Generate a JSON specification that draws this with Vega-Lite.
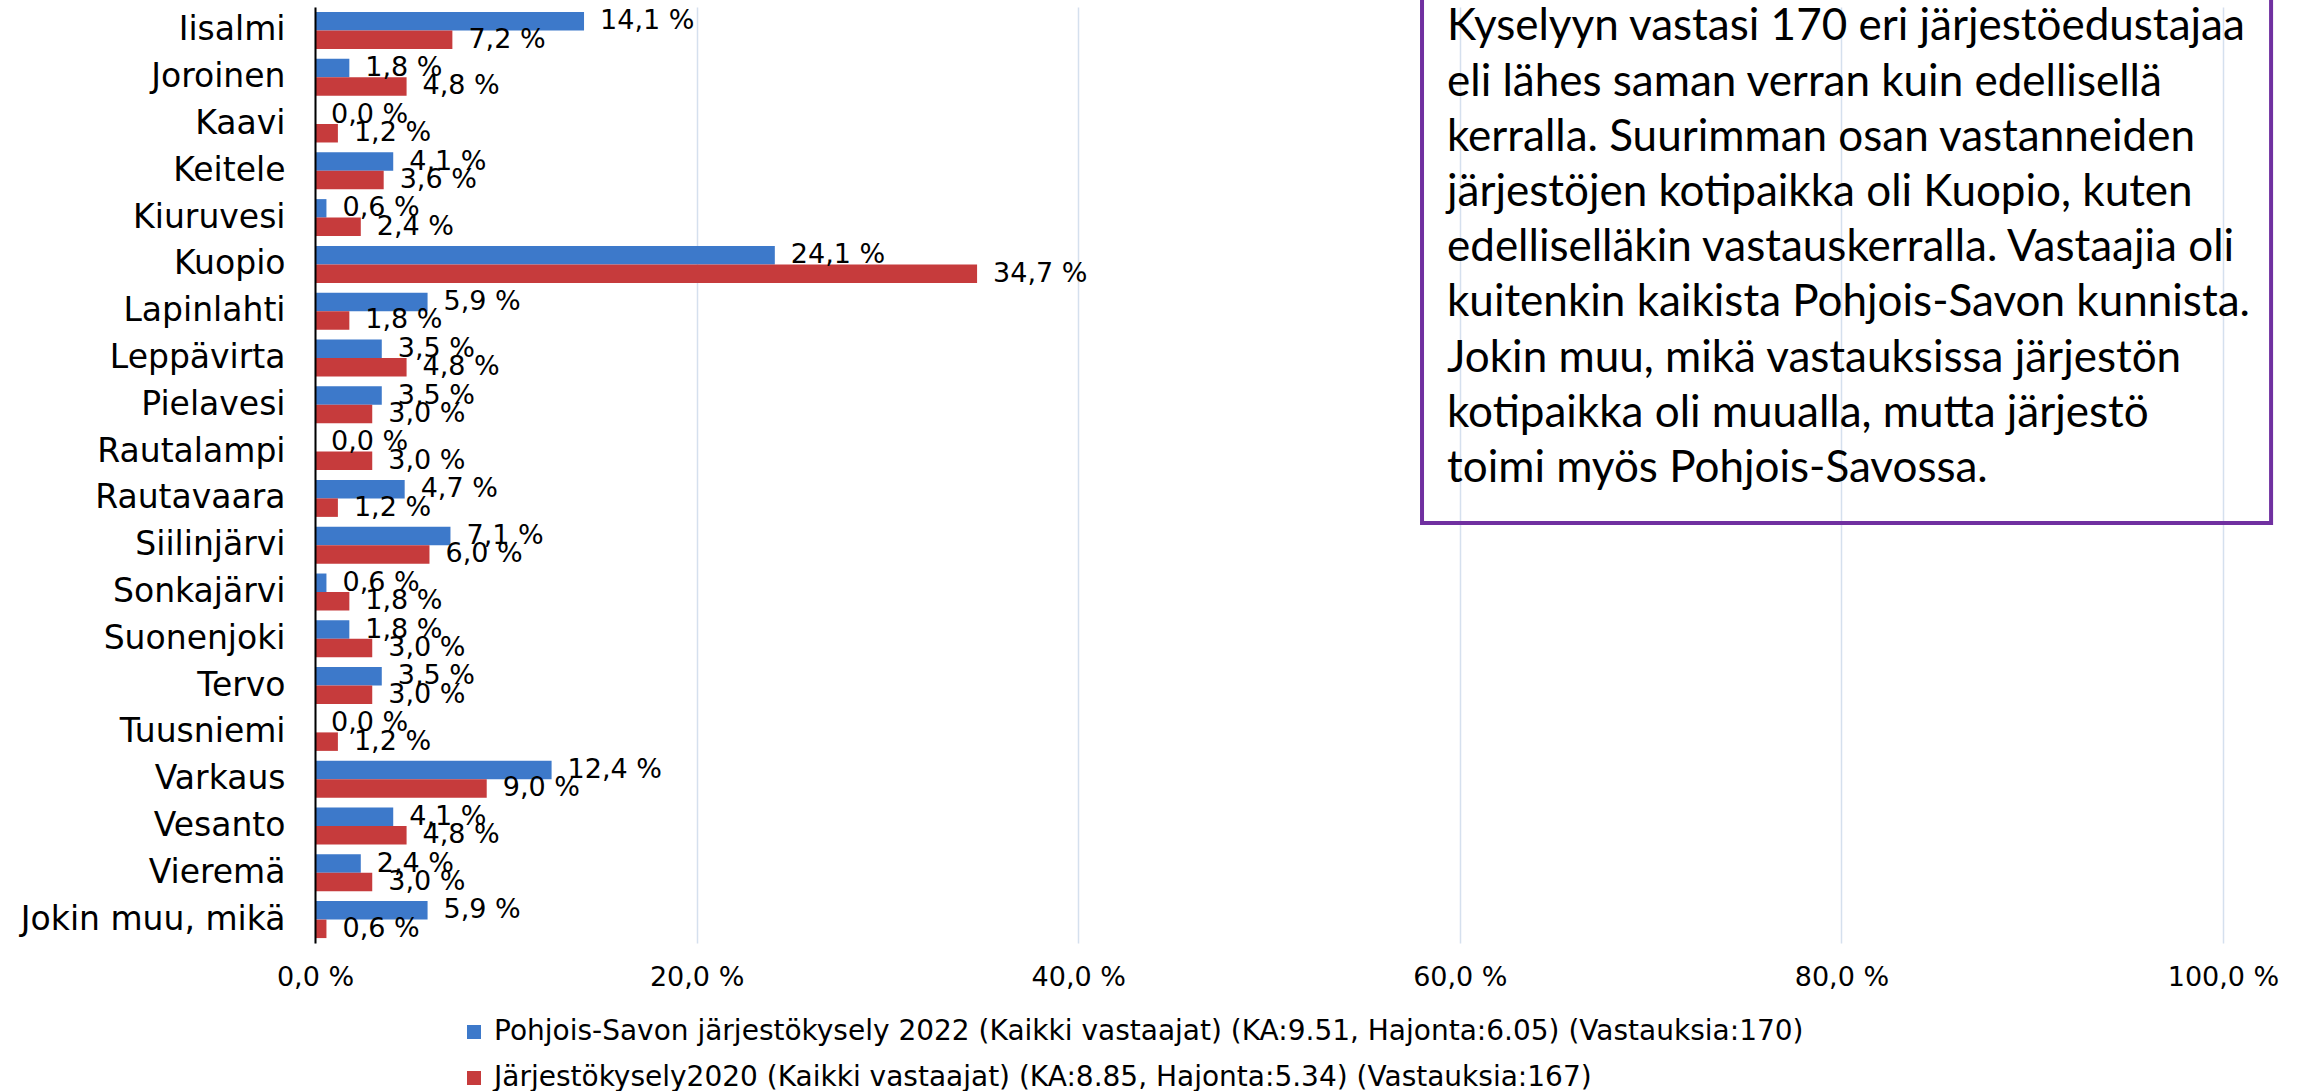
{
  "$schema": "https://vega.github.io/schema/vega-lite/v6.json",
  "width": 1908,
  "height": 936,
  "autosize": {"type": "none"},
  "padding": {"left": 315, "top": 7, "right": 85, "bottom": 148},
  "background": "white",
  "config": {
    "view": {"stroke": null},
    "font": "DejaVu Sans",
    "locale": {
      "number": {"decimal": ",", "thousands": " ", "grouping": [3], "currency": ["", " €"], "percent": " %"}
    }
  },
  "layer": [
    {
      "data": {
        "values": [
          {"kunta": "Iisalmi", "sarja": "Pohjois-Savon järjestökysely 2022 (Kaikki vastaajat) (KA:9.51, Hajonta:6.05) (Vastauksia:170)", "osuus": 0.141},
          {"kunta": "Iisalmi", "sarja": "Järjestökysely2020 (Kaikki vastaajat) (KA:8.85, Hajonta:5.34) (Vastauksia:167)", "osuus": 0.072},
          {"kunta": "Joroinen", "sarja": "Pohjois-Savon järjestökysely 2022 (Kaikki vastaajat) (KA:9.51, Hajonta:6.05) (Vastauksia:170)", "osuus": 0.018},
          {"kunta": "Joroinen", "sarja": "Järjestökysely2020 (Kaikki vastaajat) (KA:8.85, Hajonta:5.34) (Vastauksia:167)", "osuus": 0.048},
          {"kunta": "Kaavi", "sarja": "Pohjois-Savon järjestökysely 2022 (Kaikki vastaajat) (KA:9.51, Hajonta:6.05) (Vastauksia:170)", "osuus": 0.0},
          {"kunta": "Kaavi", "sarja": "Järjestökysely2020 (Kaikki vastaajat) (KA:8.85, Hajonta:5.34) (Vastauksia:167)", "osuus": 0.012},
          {"kunta": "Keitele", "sarja": "Pohjois-Savon järjestökysely 2022 (Kaikki vastaajat) (KA:9.51, Hajonta:6.05) (Vastauksia:170)", "osuus": 0.041},
          {"kunta": "Keitele", "sarja": "Järjestökysely2020 (Kaikki vastaajat) (KA:8.85, Hajonta:5.34) (Vastauksia:167)", "osuus": 0.036},
          {"kunta": "Kiuruvesi", "sarja": "Pohjois-Savon järjestökysely 2022 (Kaikki vastaajat) (KA:9.51, Hajonta:6.05) (Vastauksia:170)", "osuus": 0.006},
          {"kunta": "Kiuruvesi", "sarja": "Järjestökysely2020 (Kaikki vastaajat) (KA:8.85, Hajonta:5.34) (Vastauksia:167)", "osuus": 0.024},
          {"kunta": "Kuopio", "sarja": "Pohjois-Savon järjestökysely 2022 (Kaikki vastaajat) (KA:9.51, Hajonta:6.05) (Vastauksia:170)", "osuus": 0.241},
          {"kunta": "Kuopio", "sarja": "Järjestökysely2020 (Kaikki vastaajat) (KA:8.85, Hajonta:5.34) (Vastauksia:167)", "osuus": 0.347},
          {"kunta": "Lapinlahti", "sarja": "Pohjois-Savon järjestökysely 2022 (Kaikki vastaajat) (KA:9.51, Hajonta:6.05) (Vastauksia:170)", "osuus": 0.059},
          {"kunta": "Lapinlahti", "sarja": "Järjestökysely2020 (Kaikki vastaajat) (KA:8.85, Hajonta:5.34) (Vastauksia:167)", "osuus": 0.018},
          {"kunta": "Leppävirta", "sarja": "Pohjois-Savon järjestökysely 2022 (Kaikki vastaajat) (KA:9.51, Hajonta:6.05) (Vastauksia:170)", "osuus": 0.035},
          {"kunta": "Leppävirta", "sarja": "Järjestökysely2020 (Kaikki vastaajat) (KA:8.85, Hajonta:5.34) (Vastauksia:167)", "osuus": 0.048},
          {"kunta": "Pielavesi", "sarja": "Pohjois-Savon järjestökysely 2022 (Kaikki vastaajat) (KA:9.51, Hajonta:6.05) (Vastauksia:170)", "osuus": 0.035},
          {"kunta": "Pielavesi", "sarja": "Järjestökysely2020 (Kaikki vastaajat) (KA:8.85, Hajonta:5.34) (Vastauksia:167)", "osuus": 0.030},
          {"kunta": "Rautalampi", "sarja": "Pohjois-Savon järjestökysely 2022 (Kaikki vastaajat) (KA:9.51, Hajonta:6.05) (Vastauksia:170)", "osuus": 0.0},
          {"kunta": "Rautalampi", "sarja": "Järjestökysely2020 (Kaikki vastaajat) (KA:8.85, Hajonta:5.34) (Vastauksia:167)", "osuus": 0.030},
          {"kunta": "Rautavaara", "sarja": "Pohjois-Savon järjestökysely 2022 (Kaikki vastaajat) (KA:9.51, Hajonta:6.05) (Vastauksia:170)", "osuus": 0.047},
          {"kunta": "Rautavaara", "sarja": "Järjestökysely2020 (Kaikki vastaajat) (KA:8.85, Hajonta:5.34) (Vastauksia:167)", "osuus": 0.012},
          {"kunta": "Siilinjärvi", "sarja": "Pohjois-Savon järjestökysely 2022 (Kaikki vastaajat) (KA:9.51, Hajonta:6.05) (Vastauksia:170)", "osuus": 0.071},
          {"kunta": "Siilinjärvi", "sarja": "Järjestökysely2020 (Kaikki vastaajat) (KA:8.85, Hajonta:5.34) (Vastauksia:167)", "osuus": 0.060},
          {"kunta": "Sonkajärvi", "sarja": "Pohjois-Savon järjestökysely 2022 (Kaikki vastaajat) (KA:9.51, Hajonta:6.05) (Vastauksia:170)", "osuus": 0.006},
          {"kunta": "Sonkajärvi", "sarja": "Järjestökysely2020 (Kaikki vastaajat) (KA:8.85, Hajonta:5.34) (Vastauksia:167)", "osuus": 0.018},
          {"kunta": "Suonenjoki", "sarja": "Pohjois-Savon järjestökysely 2022 (Kaikki vastaajat) (KA:9.51, Hajonta:6.05) (Vastauksia:170)", "osuus": 0.018},
          {"kunta": "Suonenjoki", "sarja": "Järjestökysely2020 (Kaikki vastaajat) (KA:8.85, Hajonta:5.34) (Vastauksia:167)", "osuus": 0.030},
          {"kunta": "Tervo", "sarja": "Pohjois-Savon järjestökysely 2022 (Kaikki vastaajat) (KA:9.51, Hajonta:6.05) (Vastauksia:170)", "osuus": 0.035},
          {"kunta": "Tervo", "sarja": "Järjestökysely2020 (Kaikki vastaajat) (KA:8.85, Hajonta:5.34) (Vastauksia:167)", "osuus": 0.030},
          {"kunta": "Tuusniemi", "sarja": "Pohjois-Savon järjestökysely 2022 (Kaikki vastaajat) (KA:9.51, Hajonta:6.05) (Vastauksia:170)", "osuus": 0.0},
          {"kunta": "Tuusniemi", "sarja": "Järjestökysely2020 (Kaikki vastaajat) (KA:8.85, Hajonta:5.34) (Vastauksia:167)", "osuus": 0.012},
          {"kunta": "Varkaus", "sarja": "Pohjois-Savon järjestökysely 2022 (Kaikki vastaajat) (KA:9.51, Hajonta:6.05) (Vastauksia:170)", "osuus": 0.124},
          {"kunta": "Varkaus", "sarja": "Järjestökysely2020 (Kaikki vastaajat) (KA:8.85, Hajonta:5.34) (Vastauksia:167)", "osuus": 0.090},
          {"kunta": "Vesanto", "sarja": "Pohjois-Savon järjestökysely 2022 (Kaikki vastaajat) (KA:9.51, Hajonta:6.05) (Vastauksia:170)", "osuus": 0.041},
          {"kunta": "Vesanto", "sarja": "Järjestökysely2020 (Kaikki vastaajat) (KA:8.85, Hajonta:5.34) (Vastauksia:167)", "osuus": 0.048},
          {"kunta": "Vieremä", "sarja": "Pohjois-Savon järjestökysely 2022 (Kaikki vastaajat) (KA:9.51, Hajonta:6.05) (Vastauksia:170)", "osuus": 0.024},
          {"kunta": "Vieremä", "sarja": "Järjestökysely2020 (Kaikki vastaajat) (KA:8.85, Hajonta:5.34) (Vastauksia:167)", "osuus": 0.030},
          {"kunta": "Jokin muu, mikä", "sarja": "Pohjois-Savon järjestökysely 2022 (Kaikki vastaajat) (KA:9.51, Hajonta:6.05) (Vastauksia:170)", "osuus": 0.059},
          {"kunta": "Jokin muu, mikä", "sarja": "Järjestökysely2020 (Kaikki vastaajat) (KA:8.85, Hajonta:5.34) (Vastauksia:167)", "osuus": 0.006}
        ]
      },
      "encoding": {
        "y": {
          "field": "kunta", "type": "nominal", "sort": null,
          "scale": {"paddingInner": 0.21, "paddingOuter": 0.105},
          "axis": {
            "title": null, "ticks": false, "domain": true, "domainColor": "#000000", "domainWidth": 2,
            "labelFontSize": 33, "labelColor": "#000000", "labelPadding": 30, "labelLimit": 0, "grid": false, "zindex": 1
          }
        },
        "yOffset": {"field": "sarja", "sort": null},
        "x": {
          "field": "osuus", "type": "quantitative",
          "scale": {"domain": [0, 1]},
          "axis": {
            "title": null, "domain": false, "ticks": false, "grid": true, "gridColor": "#D5E0EE", "gridWidth": 1.5,
            "values": [0, 0.2, 0.4, 0.6, 0.8, 1], "format": ".1%", "labelFlush": false,
            "labelFontSize": 27, "labelColor": "#000000", "labelPadding": 21
          }
        }
      },
      "layer": [
        {
          "mark": {"type": "bar"},
          "encoding": {
            "color": {
              "field": "sarja", "type": "nominal", "sort": null,
              "scale": {"range": ["#3D79CA", "#C63B3C"]},
              "legend": {
                "title": null, "orient": "none", "legendX": 145, "legendY": 1011, "direction": "vertical",
                "symbolType": "square", "symbolSize": 196, "symbolStrokeWidth": 0, "labelFontSize": 28,
                "labelColor": "#000000", "labelOffset": 6, "labelLimit": 0, "rowPadding": 18, "padding": 0
              }
            }
          }
        },
        {
          "mark": {"type": "text", "align": "left", "baseline": "middle", "dx": 16, "fontSize": 27, "color": "#000000"},
          "encoding": {
            "text": {"field": "osuus", "type": "quantitative", "format": ".1%"}
          }
        }
      ]
    },
    {
      "data": {
        "values": [
          {"teksti": "Kyselyyn vastasi 170 eri järjestöedustajaa\neli lähes saman verran kuin edellisellä\nkerralla. Suurimman osan vastanneiden\njärjestöjen kotipaikka oli Kuopio, kuten\nedelliselläkin vastauskerralla. Vastaajia oli\nkuitenkin kaikista Pohjois-Savon kunnista.\nJokin muu, mikä vastauksissa järjestön\nkotipaikka oli muualla, mutta järjestö\ntoimi myös Pohjois-Savossa."}
        ]
      },
      "layer": [
        {
          "mark": {"type": "rect", "fill": null, "fillOpacity": 0, "stroke": "#7030A0", "strokeWidth": 4},
          "encoding": {
            "x": {"datum": 0.5802, "type": "quantitative", "scale": {"domain": [0, 1]}},
            "x2": {"datum": 1.0252},
            "y": {"datum": -1, "type": "quantitative", "scale": {"domain": [0, 16.957], "reverse": true}, "axis": null},
            "y2": {"datum": 9.35}
          }
        },
        {
          "mark": {"type": "text", "align": "left", "baseline": "middle", "lineBreak": "\n", "lineHeight": 55.2, "font": "Lato", "fontSize": 44, "color": "#000000"},
          "encoding": {
            "x": {"datum": 0.5933, "type": "quantitative", "scale": {"domain": [0, 1]}},
            "y": {"datum": 0.37, "type": "quantitative", "scale": {"domain": [0, 16.957], "reverse": true}, "axis": null},
            "text": {"field": "teksti"}
          }
        }
      ]
    }
  ],
  "resolve": {"scale": {"y": "independent"}}
}
